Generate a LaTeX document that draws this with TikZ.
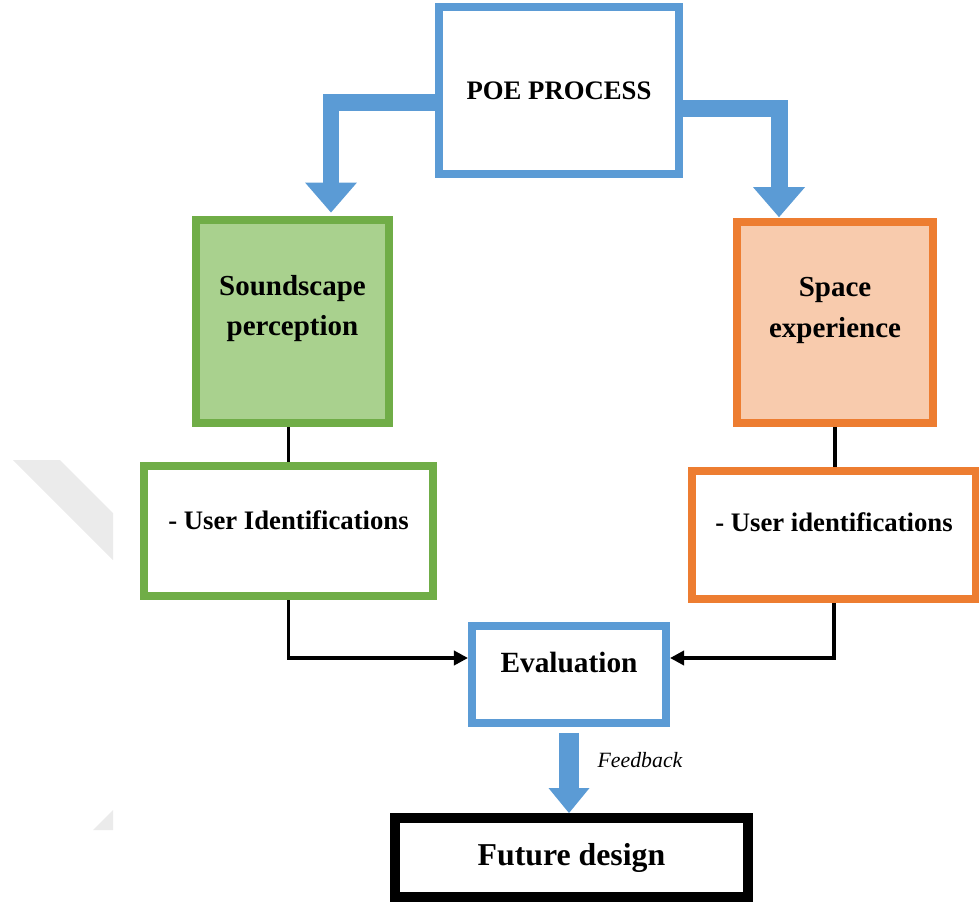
\documentclass[tikz,border=0pt]{standalone}
\usepackage{fontspec}
\setmainfont{Liberation Serif}
\usepackage{xcolor}
\usetikzlibrary{arrows.meta}
\definecolor{poeblue}{HTML}{5B9BD5}
\definecolor{greenline}{HTML}{70AD47}
\definecolor{greenfill}{HTML}{A9D18E}
\definecolor{orangeline}{HTML}{ED7D31}
\definecolor{orangefill}{HTML}{F8CBAD}

\begin{document}
\begin{tikzpicture}[x=0.02cm,y=-0.02cm,
	box/.style={draw,line width=0.16cm,inner sep=0pt,fill=white,font=\bfseries\fontsize{15.2}{18}\selectfont},
	bigtext/.style={font=\bfseries\fontsize{16.5}{23}\selectfont},
	fatarrow/.style={draw=poeblue,line width=0.34cm,line join=miter,-{Triangle[length=0.6cm,width=1.04cm,line width=0pt]}},
	link/.style={line width=2.2pt,-{Triangle[length=8pt,width=8pt]}}]
	\useasboundingbox (0,0) rectangle (979,904);
	% Draw watermark
	\fill[black!8] (13,460) -- (60,460) -- (113,513) -- (113,560) -- cycle;
	\fill[black!8] (93,830) -- (113,810) -- (113,830) -- cycle;
	% Draw boxes
	\node[box,draw=poeblue,minimum width=4.8cm,minimum height=3.34cm] (poe) at (559,90.5) {POE PROCESS};
	\node[box,bigtext,draw=greenline,fill=greenfill,minimum width=3.86cm,minimum height=4.06cm] (green) at (292.5,321.5)
		{\raisebox{35pt}{\begin{tabular}{@{}c@{}}Soundscape\\perception\end{tabular}}};
	\node[box,bigtext,draw=orangeline,fill=orangefill,minimum width=3.92cm,minimum height=4.02cm] (orange) at (835,322.5)
		{\raisebox{34pt}{\begin{tabular}{@{}c@{}}Space\\experience\end{tabular}}};
	\node[box,draw=greenline,minimum width=5.78cm,minimum height=2.6cm] (gid) at (288.5,531) {\raisebox{12.5pt}{- User Identifications}};
	\node[box,draw=orangeline,minimum width=5.68cm,minimum height=2.56cm] (oid) at (834,535) {\raisebox{14.8pt}{- User identifications}};
	\node[box,draw=poeblue,minimum width=3.88cm,minimum height=1.94cm,font=\bfseries\fontsize{16.7}{20}\selectfont] (eval) at (569,674.5) {\raisebox{14.2pt}{Evaluation}};
	\node[box,draw=black,line width=0.2cm,minimum width=7.06cm,minimum height=1.58cm,font=\bfseries\fontsize{18.1}{22}\selectfont] (future) at (571.5,857.5) {Future design};
	% Draw connectors
	\draw[line width=2.2pt] (gid.north) -- (gid.north |- green.south);
	\draw[line width=2.2pt] (orange.south) -- (orange.south |- oid.north);
	\draw[link] (gid.south) |- ([yshift=9.4pt]eval.west);
	\draw[link] (oid.south) |- ([yshift=9.4pt]eval.east);
	% Draw block arrows
	\draw[fatarrow] ([yshift=-6.8pt]poe.west) -| ([xshift=0.77cm,yshift=2pt]green.north);
	\draw[fatarrow] ([yshift=-10.2pt]poe.east) -| ([xshift=-1.12cm,yshift=0.5pt]orange.north);
	\draw[fatarrow,line width=0.4cm,-{Triangle[length=0.5cm,width=0.82cm,line width=0pt]}] ([yshift=-3.4pt]eval.south) -- (eval.south |- future.north);
	\node[font=\itshape\fontsize{12.4}{14}\selectfont] (fb) at (640,760) {Feedback};
\end{tikzpicture}
\end{document}
